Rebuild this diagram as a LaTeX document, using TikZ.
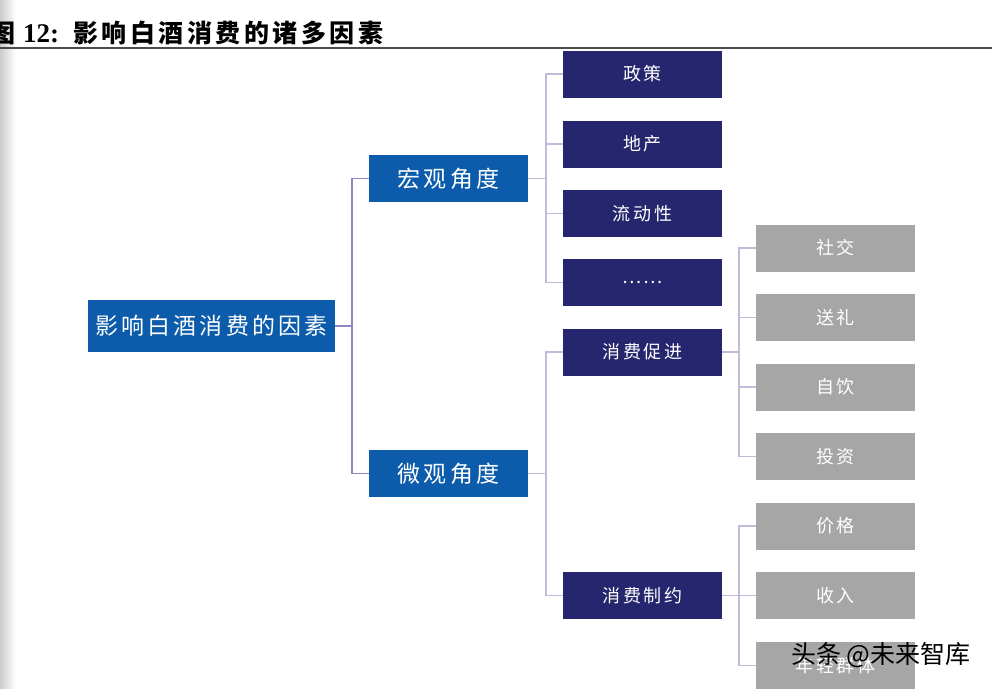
\documentclass[tikz,border=0pt]{standalone}
\usepackage{fontspec}
\setmainfont{Liberation Serif}
\newfontfamily\cjk[LetterSpace=14]{Noto Sans CJK SC}
\newfontfamily\cjktitle[LetterSpace=14]{Noto Sans CJK SC}
\newfontfamily\cjkt{Noto Sans CJK SC}
\definecolor{rootblue}{RGB}{12,92,171}
\definecolor{navy}{RGB}{38,38,110}
\definecolor{boxgrey}{RGB}{166,166,166}
\definecolor{lineA}{RGB}{140,135,196}
\definecolor{lineB}{RGB}{190,188,216}
\tikzset{
  bluebox/.style={rectangle, fill=rootblue, text=white, inner sep=0pt, minimum height=47pt, font=\cjk\fontsize{23}{25}\selectfont},
  navybox/.style={rectangle, fill=navy, text=white, inner sep=0pt, minimum width=159pt, minimum height=47pt, font=\cjk\fontsize{18}{20}\selectfont},
  greybox/.style={rectangle, fill=boxgrey, text=white, inner sep=0pt, minimum width=159pt, minimum height=47pt, font=\cjk\fontsize{18}{20}\selectfont},
  connA/.style={draw=lineA, line width=1.6pt},
  connB/.style={draw=lineB, line width=1.6pt},
}
\begin{document}
\begin{tikzpicture}[x=1pt,y=-1pt]
\useasboundingbox (0,0) rectangle (992,688);
\begin{scope}
\clip (0,0) rectangle (992,688);
% left page shadow
\shade[left color=black!20, right color=white] (0,0) rectangle (16,688);
% title
\node[anchor=base west, inner sep=0pt] (title) at (-10,42) {\cjkt\bfseries\fontsize{25}{27}\selectfont 图\hspace{8pt}{\rmfamily\bfseries\fontsize{27}{28}\selectfont 12:}\hspace{14pt}{\cjktitle\bfseries 影响白酒消费的诸多因素}};
\draw[line width=1.6pt, draw=black!70] (0,48) -- (992,48);

% nodes
\node[bluebox, minimum width=247pt, minimum height=52pt] (root) at (211.5,326) {影响白酒消费的因素};
\node[bluebox, minimum width=159pt] (hong) at (448.5,178.5) {宏观角度};
\node[bluebox, minimum width=159pt] (wei) at (448.5,473.5) {微观角度};

\node[navybox] (zc) at (642.5,74) {政策};
\node[navybox] (dc) at (642.5,144) {地产};
\node[navybox] (ld) at (642.5,213.5) {流动性};
\node[navybox] (dots) at (642.5,282.5) {……};
\node[navybox] (cj) at (642.5,352) {消费促进};
\node[navybox] (zy) at (642.5,595.5) {消费制约};

\node[greybox] (sj) at (835.5,248) {社交};
\node[greybox] (sl) at (835.5,317.5) {送礼};
\node[greybox] (zy2) at (835.5,387) {自饮};
\node[greybox] (tz) at (835.5,456.5) {投资};
\node[greybox] (jg) at (835.5,526) {价格};
\node[greybox] (sr) at (835.5,595.5) {收入};
\node[greybox] (qt) at (835.5,665.5) {年轻群体};

% connectors: root level
\draw[connA] (hong.west) -- ++(-17,0) coordinate (ja) |- (wei.west);
\draw[connA] (root.east) -- (root.east -| ja);

% macro
\draw[connB] (zc.west) -- ++(-17,0) coordinate (jb) |- (dots.west);
\draw[connB] (dc.west) -- (dc.west -| jb);
\draw[connB] (ld.west) -- (ld.west -| jb);
\draw[connB] (hong.east) -- (hong.east -| jb);

% micro
\draw[connB] (cj.west) -- ++(-17,0) coordinate (jc) |- (zy.west);
\draw[connB] (wei.east) -- (wei.east -| jc);

% promotion
\draw[connB] (sj.west) -- ++(-17,0) coordinate (jd) |- (tz.west);
\draw[connB] (sl.west) -- (sl.west -| jd);
\draw[connB] (zy2.west) -- (zy2.west -| jd);
\draw[connB] (cj.east) -- (cj.east -| jd);

% constraint
\draw[connB] (jg.west) -- ++(-17,0) coordinate (je) |- (qt.west);
\draw[connB] (sr.west) -- (sr.west -| je);
\draw[connB] (zy.east) -- (zy.east -| je);

% watermark
\node[inner sep=0pt, text=black, font=\cjkt\fontsize{25}{27}\selectfont] (wm) at (881,655) {头条 @未来智库};
\end{scope}
\end{tikzpicture}
\end{document}
